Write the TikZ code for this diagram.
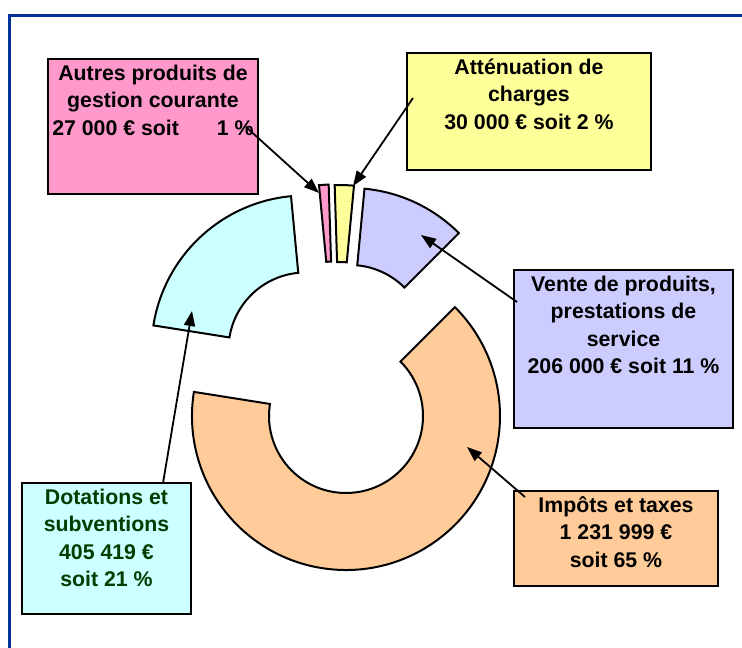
\documentclass[tikz,border=0pt]{standalone}
\usepackage{fontspec}
\setmainfont{Liberation Sans}
\usetikzlibrary{positioning,arrows.meta}
\definecolor{rosefill}{HTML}{FF99CC}
\definecolor{jaunefill}{HTML}{FFFF99}
\definecolor{mauvefill}{HTML}{CCCCFF}
\definecolor{orangefill}{HTML}{FFCC99}
\definecolor{cyanfill}{HTML}{CCFFFF}
\definecolor{vertfonce}{HTML}{003D00}
\definecolor{cadre}{HTML}{003399}
\tikzset{
  part/.style={draw=black, line width=2pt},
  boite/.style={draw=black, line width=2pt, anchor=north west, inner sep=0pt},
  texte/.style={align=center, inner sep=0pt, font=\bfseries\fontsize{21.3}{27.5}\selectfont},
  fleche/.style={-{Triangle[length=15pt,width=11pt]}, line width=1.8pt},
}
\begin{document}
\begin{tikzpicture}[x=1pt,y=1pt]
\useasboundingbox (0,0) rectangle (742,648);
\draw[cadre, line width=3pt] (742,632) -- (9,632) -- (9,0);

% secteurs
\draw[part, fill=orangefill, shift={(346,232)}] (-189:154pt) arc[start angle=-189, end angle=45, radius=154pt]
  -- (45:77pt) arc[start angle=45, end angle=-189, radius=77pt] -- cycle;
\draw[part, fill=cyanfill, shift={(305.5,298.5)}] (95.4:154pt) arc[start angle=95.4, end angle=171, radius=154pt]
  -- (171:77pt) arc[start angle=171, end angle=95.4, radius=77pt] -- cycle;
\draw[part, fill=rosefill, shift={(333.5,309.5)}] (91.8:154pt) arc[start angle=91.8, end angle=95.4, radius=154pt]
  -- (95.4:77pt) arc[start angle=95.4, end angle=91.8, radius=77pt] -- cycle;
\draw[part, fill=jaunefill, shift={(339.5,309)}] (84.6:154pt) arc[start angle=84.6, end angle=91.8, radius=154pt]
  -- (91.8:77pt) arc[start angle=91.8, end angle=84.6, radius=77pt] -- cycle;
\draw[part, fill=mauvefill, shift={(350,306)}] (45:154pt) arc[start angle=45, end angle=84.6, radius=154pt]
  -- (84.6:77pt) arc[start angle=84.6, end angle=45, radius=77pt] -- cycle;

% etiquettes
\node[boite, fill=rosefill, minimum width=210pt, minimum height=135pt] (autres) at (47,590) {};
\node[texte, below=2.75pt of autres.north] (autrestxt) {\strut Autres produits de\\gestion courante\\27 000 € soit\hspace{38pt}1 \%};
\node[boite, fill=jaunefill, minimum width=244pt, minimum height=117pt] (attenuation) at (406,596) {};
\node[texte, below=2.75pt of attenuation.north] (attenuationtxt) {\strut Atténuation de\\charges\\30 000 € soit 2 \%};
\node[boite, fill=mauvefill, minimum width=219pt, minimum height=158pt] (vente) at (513,379) {};
\node[texte, below=2.75pt of vente.north] (ventetxt) {\strut Vente de produits,\\prestations de\\service\\206 000 € soit 11 \%};
\node[boite, fill=orangefill, minimum width=204pt, minimum height=95pt] (impots) at (513,158) {};
\node[texte, below=2.75pt of impots.north] (impotstxt) {\strut Impôts et taxes\\1 231 999 €\\soit 65 \%};
\node[boite, fill=cyanfill, minimum width=169pt, minimum height=131pt] (dotations) at (21,166) {};
\node[texte, text=vertfonce, below=2.75pt of dotations.north] (dotationstxt) {\strut Dotations et\\subventions\\405 419 €\\soit 21 \%};

% fleches
\coordinate (autresfrom) at (246,521);
\coordinate (autresto) at (319,455);
\coordinate (attenuationfrom) at (413,550);
\coordinate (attenuationto) at (353,462);
\coordinate (ventefrom) at (517,346);
\coordinate (venteto) at (421,413);
\coordinate (impotsfrom) at (525,151);
\coordinate (impotsto) at (467,201);
\coordinate (dotationsfrom) at (163,165);
\coordinate (dotationsto) at (192,337);
\draw[fleche] (autresfrom) -- (autresto);
\draw[fleche] (attenuationfrom) -- (attenuationto);
\draw[fleche] (ventefrom) -- (venteto);
\draw[fleche] (impotsfrom) -- (impotsto);
\draw[fleche] (dotationsfrom) -- (dotationsto);
\end{tikzpicture}
\end{document}
